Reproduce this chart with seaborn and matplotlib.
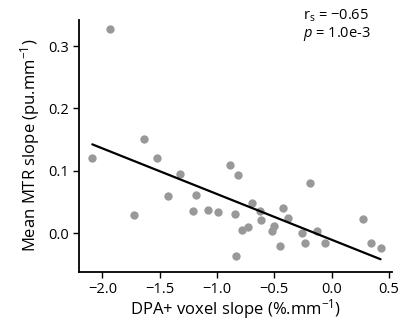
import numpy as np
import pandas as pd
import matplotlib
matplotlib.use("Agg")
import matplotlib.pyplot as plt
import seaborn as sns

# values
dpa_slope = [-2.089, -1.935, -1.728, -1.640, -1.527, -1.429, -1.324, -1.210, -1.186,
             -1.075, -0.992, -0.883, -0.844, -0.815, -0.833, -0.783, -0.733, -0.695,
             -0.626, -0.613, -0.521, -0.503, -0.422, -0.377, -0.447, -0.185, -0.262,
             -0.233, -0.123, -0.059, 0.276, 0.343, 0.428]
mtr_slope = [0.121, 0.328, 0.030, 0.151, 0.120, 0.059, 0.095, 0.035, 0.062,
             0.037, 0.034, 0.109, 0.031, 0.094, -0.036, 0.006, 0.010, 0.049,
             0.036, 0.022, 0.004, 0.012, 0.041, 0.024, -0.020, 0.081, 0.000,
             -0.015, 0.004, -0.015, 0.023, -0.015, -0.024]
x_ticks = [-2.0, -1.5, -1.0, -0.5, 0.0, 0.5]
y_ticks = [0.0, 0.1, 0.2, 0.3]

df = pd.DataFrame({"dpa": dpa_slope, "mtr": mtr_slope})

sns.set_style("ticks")
plt.rcParams['font.family'] = ['Open Sans', 'DejaVu Sans']
plt.rcParams['mathtext.fontset'] = 'custom'
plt.rcParams['mathtext.rm'] = 'Open Sans'
plt.rcParams['mathtext.it'] = 'Open Sans:italic'
plt.rcParams['text.color'] = 'black'
plt.rcParams['axes.labelcolor'] = 'black'

fig = plt.figure(figsize=(4.01, 3.20), dpi=100)
ax = fig.add_axes([0.197, 0.151, 0.78, 0.787])

sns.regplot(data=df, x="dpa", y="mtr", ax=ax, ci=None,
            scatter_kws=dict(color="#999999", s=36, linewidths=0, alpha=1),
            line_kws=dict(color="black", lw=1.6))

ax.set_xlim(-2.205, 0.526)
ax.set_ylim(-0.0615, 0.342)
ax.set_xticks(x_ticks)
ax.set_yticks(y_ticks)
ax.set_xticklabels([f"{t:.1f}".replace("-", "\u2212") for t in x_ticks])
ax.set_yticklabels([f"{t:.1f}" for t in y_ticks])
ax.tick_params(labelsize=10.5, length=4, width=1, colors="black")
ax.set_xlabel("DPA+ voxel slope (%.mm$^{-1}$)", fontsize=12, labelpad=0)
ax.set_ylabel("Mean MTR slope (pu.mm$^{-1}$)", fontsize=12, labelpad=4)
sns.despine(ax=ax)
for s in ["left", "bottom"]:
    ax.spines[s].set_linewidth(1.3)
    ax.spines[s].set_color("black")

# stats annotation, sits partly above the axes top
ax.text(0.715, 1.05, "r$_\\mathregular{s}$ = \u22120.65", transform=ax.transAxes,
        fontsize=10.5, va="top", ha="left")
ax.text(0.715, 0.978, "$\\it{p}$ = 1.0e-3", transform=ax.transAxes,
        fontsize=10.5, va="top", ha="left")

fig.savefig("out.png", dpi=100)
